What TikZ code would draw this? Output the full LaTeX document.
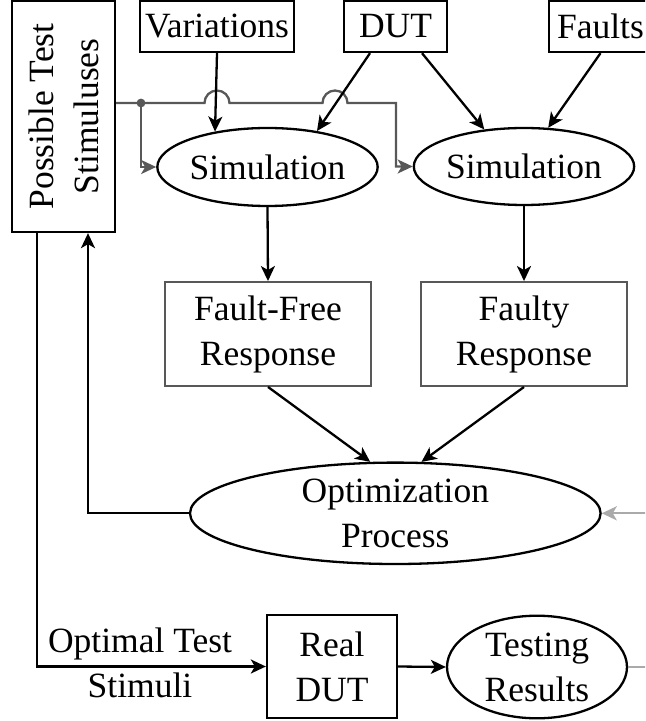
\documentclass[tikz,border=0pt]{standalone}
\usepackage{fontspec}
\setmainfont{Liberation Serif}
\usetikzlibrary{shapes.geometric,arrows.meta,calc}
\definecolor{dgray}{HTML}{585858}
\definecolor{lgray}{HTML}{AAAAAA}
\begin{document}
\begin{tikzpicture}[x=0.5pt,y=-0.5pt,
  every node/.style={font=\fontsize{17.75pt}{22.5pt}\selectfont, inner sep=0pt, align=center},
  box/.style={draw, line width=1.15pt, rectangle},
  ell/.style={draw, line width=1.15pt, ellipse},
  conn/.style={line width=1.15pt, -{Stealth[length=7.5pt,width=7pt,inset=2pt]}},
  gline/.style={conn, draw=dgray},
  lline/.style={conn, draw=lgray}]
\useasboundingbox (0,0) rectangle (645,721);
\clip (0,0) rectangle (645,721);
% nodes
\node[box, minimum width=115.5pt, minimum height=51.5pt, rotate=90] (pts) at (63.5,116.5) {Possible Test\\Stimuluses};
\node[box, minimum width=77pt, minimum height=25.5pt] (var) at (217,26.5) {Variations};
\node[box, minimum width=51.5pt, minimum height=25.5pt] (dut) at (395.5,26.5) {DUT};
\node[box, minimum width=51.5pt, minimum height=25.5pt] (faults) at (600.5,26.5) {Faults};
\node[ell, minimum width=102pt, minimum height=39pt] (sim1) at (267.5,167) {Simulation};
\node[ell, minimum width=103.5pt, minimum height=38.5pt] (sim2) at (524,166.5) {Simulation};
\node[box, draw=dgray, minimum width=102.8pt, minimum height=51.8pt] (ff) at (268,334) {Fault-Free\\Response};
\node[box, draw=dgray, minimum width=102.8pt, minimum height=51.8pt] (fy) at (524,334) {Faulty\\Response};
\node[ell, minimum width=205.3pt, minimum height=50.7pt] (opt) at (395.3,513.3) {Optimization\\Process};
\node[box, minimum width=65pt, minimum height=51.5pt] (rdut) at (332,666.5) {Real\\DUT};
\node[ell, minimum width=90pt, minimum height=51.3pt] (tr) at (537,667) {Testing\\Results};
\node (lbl) at (140,663) {Optimal Test\\Stimuli};
% gray stimulus lines
\coordinate (tap) at (141,103);
\draw[gline] (pts.south |- tap) -- (204.5,103)
  arc[start angle=180, end angle=360, radius=12.5] -- (322.5,103)
  arc[start angle=180, end angle=360, radius=12.5] -- (396,103) |- (sim2.west);
\draw[gline] (tap) |- (sim1.west);
\fill[dgray] (tap) circle[radius=2.2pt];
% black connectors
\draw[conn] (var.south) -- (sim1.146.5);
\draw[conn] ([xshift=-12.75pt]dut.south) -- (sim1.36);
\draw[conn] ([xshift=13.25pt]dut.south) -- (sim2.137);
\draw[conn] (faults.south) -- (sim2.58);
\draw[conn] (sim1.south) -- (ff.north);
\draw[conn] (sim2.south) -- (fy.north);
\draw[conn] (ff.south) -- (opt.116.6);
\draw[conn] (fy.south) -- (opt.63.4);
\coordinate (fb) at (88,513.3);
\draw[conn] (opt.west) -- (fb) -- (fb |- pts.west);
\coordinate (oc) at (37,666.5);
\draw[conn] (oc |- pts.west) -- (oc) -- (rdut.west);
\draw[conn] (rdut.east) -- (tr.west);
\coordinate (loop) at (690,667);
\draw[lline] (tr.east) -- (loop) |- (opt.east);
\end{tikzpicture}
\end{document}
